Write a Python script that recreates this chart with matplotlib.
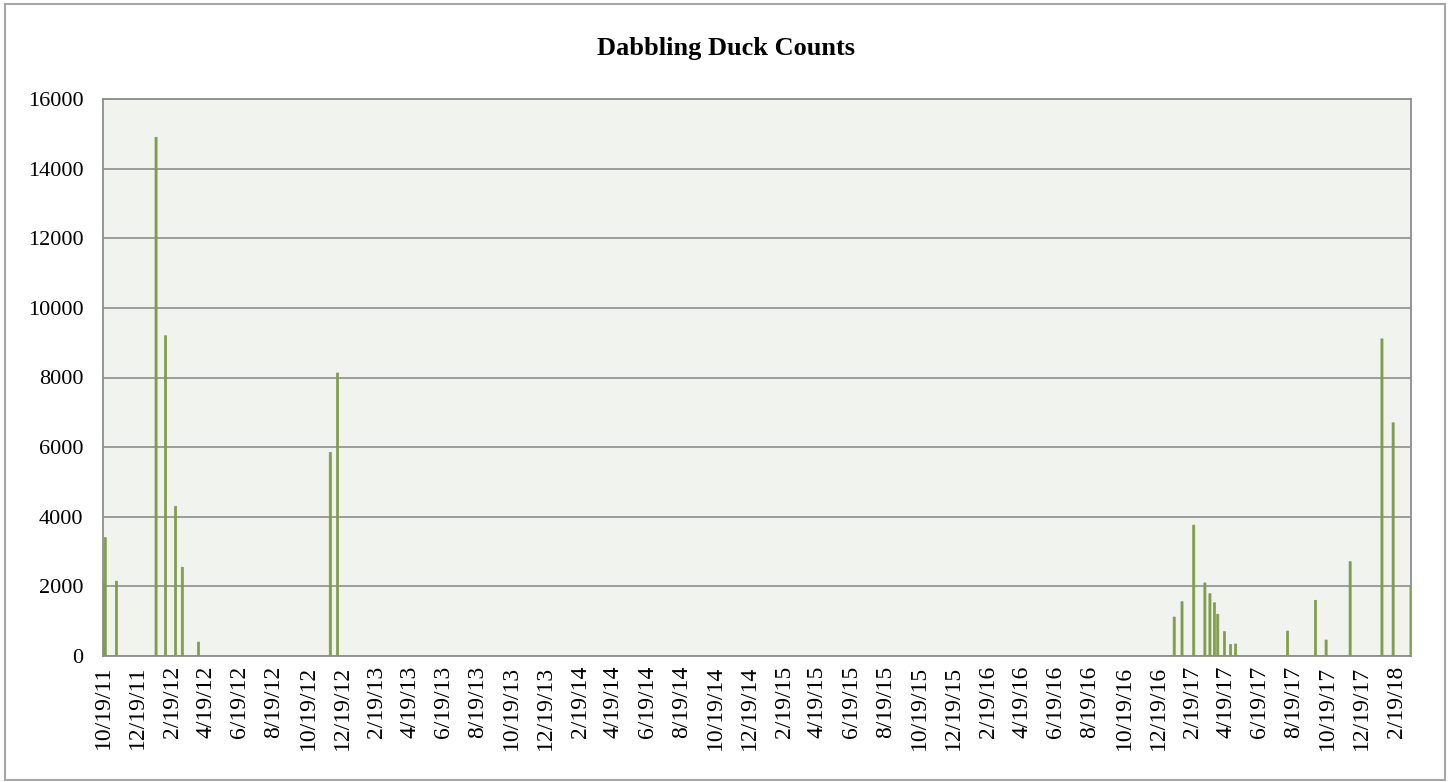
import datetime as dt
import matplotlib
matplotlib.use("Agg")
import matplotlib.pyplot as plt
from matplotlib.patches import Rectangle

# survey dates and dabbling duck counts
dates = ["2011-10-19", "2011-10-22", "2011-11-11", "2012-01-21", "2012-02-07",
         "2012-02-25", "2012-03-08", "2012-04-06", "2012-11-28", "2012-12-11",
         "2017-01-17", "2017-01-31", "2017-02-21", "2017-03-13", "2017-03-22",
         "2017-03-30", "2017-04-05", "2017-04-17", "2017-04-28", "2017-05-07",
         "2017-08-08", "2017-09-27", "2017-10-16", "2017-11-28", "2018-01-24",
         "2018-02-13", "2018-03-17"]
counts = [2100, 3400, 2150, 14900, 9200, 4300, 2550, 400, 5850, 8130,
          1120, 1560, 3760, 2100, 1790, 1530, 1200, 700, 330, 345,
          716, 1600, 460, 2710, 9110, 6700, 2000]

title = "Dabbling Duck Counts"
yticks = [0, 2000, 4000, 6000, 8000, 10000, 12000, 14000, 16000]

bar_c = "#7f9d4b"
bg_c = "#f1f3ee"
grid_c = "#8e8e8e"
font = "Liberation Serif"

x = [dt.datetime.strptime(d, "%Y-%m-%d") for d in dates]

# tick every 2 months on the 19th
xt = []
y, m = 2011, 10
while (y, m) <= (2018, 2):
    xt.append(dt.datetime(y, m, 19))
    m += 2
    if m > 12:
        m -= 12
        y += 1
xlabels = [f"{d.month}/{d.day}/{d:%y}" for d in xt]

fig = plt.figure(figsize=(14.53, 7.82), dpi=100)
ax = fig.add_axes([103/1453, 1-656/782, (1411-103)/1453, (656-99)/782])
ax.set_facecolor(bg_c)

bars = ax.bar(x, counts, width=3.8, color=bar_c, edgecolor=bar_c,
              linewidth=0.5, zorder=3)
for b in bars:
    b.set_snap(False)

ax.set_xlim(x[0] - dt.timedelta(days=1), x[-1])
ax.set_ylim(0, 16000)
ax.set_yticks(yticks)
ax.set_yticklabels([str(v) for v in yticks], fontfamily=font, fontsize=16)
ax.set_xticks(xt)
ax.set_xticklabels(xlabels, rotation=90, fontfamily=font, fontsize=17)
ax.tick_params(axis="y", length=0, pad=14)
ax.tick_params(axis="x", length=0, pad=7)

ax.grid(axis="y", color=grid_c, linewidth=1.2, zorder=1)
ax.set_axisbelow(True)
for s in ax.spines.values():
    s.set_color(grid_c)
    s.set_linewidth(1.3)

fig.text(726/1453, 1-48/782, title, ha="center", va="center",
         fontfamily=font, fontsize=19, fontweight="bold")

# outer chart border
fig.patches.append(Rectangle((5/1453, 2/782), 1440/1453, 776/782,
                             transform=fig.transFigure, fill=False,
                             edgecolor="#a6a6a6", linewidth=1.5))

fig.savefig("out.png", dpi=100)
